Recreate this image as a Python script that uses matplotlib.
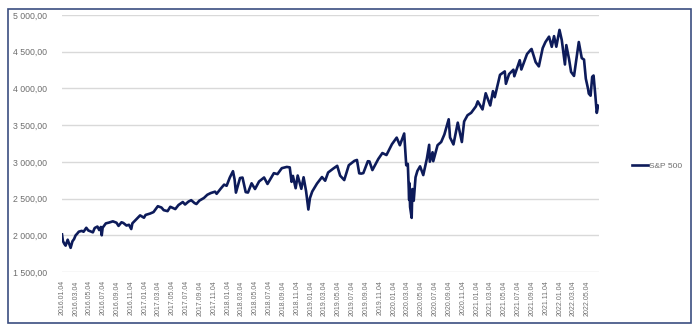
import numpy as np
import pandas as pd
import matplotlib
matplotlib.use("Agg")
import matplotlib.pyplot as plt
import matplotlib.dates as mdates
import matplotlib.patches as patches
from matplotlib.ticker import FuncFormatter

# S&P 500 closes (approximate)
dates = [
    "2016-01-04", "2016-01-08", "2016-01-15", "2016-01-20", "2016-01-29", "2016-02-05", "2016-02-11",
    "2016-02-19", "2016-02-26", "2016-03-04", "2016-03-11", "2016-03-18", "2016-03-31", "2016-04-08",
    "2016-04-20", "2016-04-29", "2016-05-06", "2016-05-19", "2016-05-27", "2016-06-08", "2016-06-16",
    "2016-06-23", "2016-06-27", "2016-07-01", "2016-07-15", "2016-07-29", "2016-08-15", "2016-08-31",
    "2016-09-09", "2016-09-22", "2016-09-30", "2016-10-14", "2016-10-25", "2016-11-04", "2016-11-09",
    "2016-11-25", "2016-12-13", "2016-12-30",
    "2017-01-06", "2017-01-26", "2017-02-10", "2017-03-01", "2017-03-17", "2017-03-27", "2017-04-13",
    "2017-04-25", "2017-05-17", "2017-05-31", "2017-06-19", "2017-06-29", "2017-07-14", "2017-07-26",
    "2017-08-10", "2017-08-18", "2017-08-31", "2017-09-20", "2017-10-05", "2017-10-20", "2017-11-08",
    "2017-11-15", "2017-12-04", "2017-12-18", "2017-12-29",
    "2018-01-12", "2018-01-26", "2018-02-02", "2018-02-08", "2018-02-26", "2018-03-09", "2018-03-23",
    "2018-04-02", "2018-04-18", "2018-05-03", "2018-05-21", "2018-06-12", "2018-06-27", "2018-07-25",
    "2018-08-10", "2018-08-29", "2018-09-20", "2018-10-03", "2018-10-11", "2018-10-17", "2018-10-29",
    "2018-11-07", "2018-11-23", "2018-12-03", "2018-12-14", "2018-12-24", "2018-12-31",
    "2019-01-10", "2019-01-31", "2019-02-22", "2019-03-08", "2019-03-21", "2019-04-12", "2019-04-30",
    "2019-05-13", "2019-05-31", "2019-06-20", "2019-07-15", "2019-07-26", "2019-08-05", "2019-08-14",
    "2019-08-23", "2019-09-12", "2019-09-19", "2019-10-02", "2019-10-28", "2019-11-15", "2019-12-03",
    "2019-12-27",
    "2020-01-17", "2020-01-31", "2020-02-19", "2020-02-28", "2020-03-06", "2020-03-12", "2020-03-13",
    "2020-03-16", "2020-03-23", "2020-03-26", "2020-04-01", "2020-04-09", "2020-04-17", "2020-04-29",
    "2020-05-13", "2020-05-29", "2020-06-08", "2020-06-11", "2020-06-23", "2020-06-26", "2020-07-15",
    "2020-07-31", "2020-08-14", "2020-09-02", "2020-09-08", "2020-09-23", "2020-10-12", "2020-10-30",
    "2020-11-09", "2020-11-24", "2020-12-10", "2020-12-31",
    "2021-01-08", "2021-01-29", "2021-02-12", "2021-03-04", "2021-03-16", "2021-03-24", "2021-04-16",
    "2021-05-07", "2021-05-12", "2021-05-26", "2021-06-14", "2021-06-18", "2021-07-12", "2021-07-19",
    "2021-08-13", "2021-08-30", "2021-09-02", "2021-09-20", "2021-10-04", "2021-10-21", "2021-11-02",
    "2021-11-18", "2021-11-30", "2021-12-10", "2021-12-20",
    "2022-01-03", "2022-01-13", "2022-01-27", "2022-02-02", "2022-02-14", "2022-02-23", "2022-03-08",
    "2022-03-29", "2022-04-11", "2022-04-21", "2022-04-29", "2022-05-09", "2022-05-12", "2022-05-20",
    "2022-05-27", "2022-06-02", "2022-06-10", "2022-06-16", "2022-06-17", "2022-06-22",
]
values = [
    2012, 1922, 1880, 1859, 1940, 1880, 1829,
    1918, 1948, 1999, 2022, 2049, 2060, 2048,
    2102, 2065, 2057, 2040, 2099, 2119, 2071,
    2113, 2000, 2103, 2162, 2173, 2190, 2171,
    2128, 2177, 2168, 2133, 2143, 2085, 2163,
    2213, 2271, 2239,
    2277, 2296, 2316, 2396, 2378, 2342, 2329,
    2388, 2357, 2412, 2453, 2419, 2459, 2478,
    2438, 2426, 2472, 2508, 2552, 2575, 2594,
    2565, 2639, 2690, 2674,
    2786, 2873, 2762, 2581, 2780, 2786, 2588,
    2582, 2708, 2630, 2733, 2787, 2699, 2846,
    2833, 2914, 2931, 2925, 2728, 2809, 2641,
    2814, 2633, 2790, 2600, 2351, 2507,
    2596, 2704, 2793, 2743, 2855, 2907, 2946,
    2812, 2752, 2954, 3014, 3026, 2844, 2840,
    2847, 3009, 3006, 2888, 3039, 3120, 3093,
    3240,
    3330, 3226, 3386, 2954, 2972, 2481, 2711,
    2386, 2237, 2630, 2470, 2790, 2875, 2939,
    2820, 3044, 3232, 3002, 3131, 3009, 3227,
    3271, 3373, 3580, 3332, 3237, 3534, 3270,
    3550, 3635, 3668, 3756,
    3824, 3714, 3934, 3768, 3963, 3881, 4185,
    4232, 4063, 4195, 4255, 4166, 4384, 4258,
    4468, 4529, 4537, 4358, 4300, 4549, 4631,
    4705, 4567, 4712, 4568,
    4797, 4659, 4326, 4590, 4401, 4225, 4170,
    4632, 4413, 4393, 4132, 3991, 3930, 3901,
    4158, 4176, 3900, 3667, 3675, 3765,
]
series_name = "S&P 500"

x = pd.to_datetime(dates)

fig = plt.figure(figsize=(7.0, 3.33), dpi=100)
ax = fig.add_axes([62 / 700, 61 / 333, (599 - 62) / 700, (272 - 15) / 333])

# outer chart frame
fig.patches.append(patches.Rectangle((8 / 700, 10 / 333), 683 / 700, 314 / 333,
                                     transform=fig.transFigure, fill=False,
                                     edgecolor='#3B4E80', linewidth=1.2))

ax.plot(x, values, color='#0D1B5A', linewidth=1.9, label=series_name, solid_joinstyle='round')

ax.set_ylim(1500, 5000)
ax.set_yticks(np.arange(1500, 5001, 500))
ax.yaxis.set_major_formatter(FuncFormatter(lambda v, p: f"{int(v):,}".replace(",", " ") + ",00"))
ax.grid(axis='y', color='#D9D9D9', linewidth=1.0)
ax.set_axisbelow(True)

ticks = pd.date_range("2016-01-01", "2022-05-01", freq="2MS") + pd.Timedelta(days=3)
ax.set_xticks(ticks)
ax.xaxis.set_major_formatter(mdates.DateFormatter("%Y.%m.%d"))
ax.set_xlim(pd.Timestamp("2016-01-04"), pd.Timestamp("2022-06-26"))

for s in ax.spines.values():
    s.set_visible(False)
ax.tick_params(axis='both', length=0, colors='#6E6E6E')
ax.tick_params(axis='y', labelsize=6.3, pad=10.5)
ax.tick_params(axis='x', labelsize=5.0, labelrotation=90, pad=6)
for lbl in ax.get_yticklabels() + ax.get_xticklabels():
    lbl.set_family('Liberation Sans')

fig.legend(loc='center left', bbox_to_anchor=(624 / 700, 1 - 166 / 333), frameon=False,
           prop={'family': 'Liberation Sans', 'size': 6.0}, labelcolor='#6E6E6E',
           handlelength=2.0, handletextpad=0.1)

fig.savefig("out.png", dpi=100)
